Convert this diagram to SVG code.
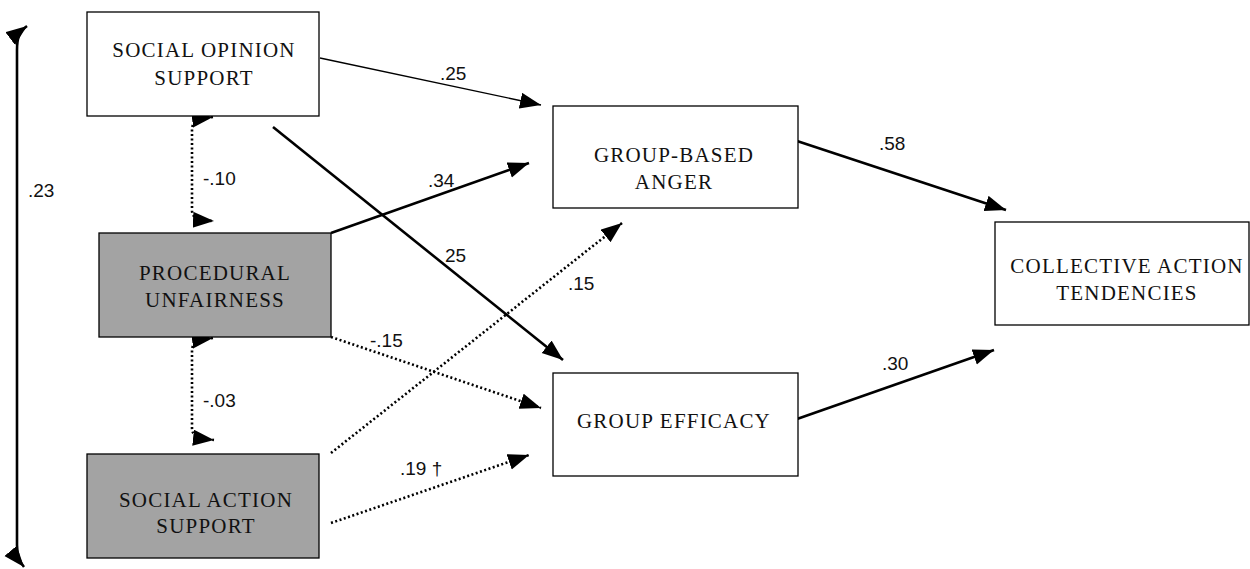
<svg xmlns="http://www.w3.org/2000/svg" width="1250" height="569" viewBox="0 0 1250 569">
  <style>
    .box { fill: #ffffff; stroke: #000000; stroke-width: 1.3; }
    .box.grey { fill: #a3a3a3; }
    .lbl { font-family: "Liberation Serif", "Times New Roman", serif; font-size: 21px; letter-spacing: 1.2px; fill: #111111; text-anchor: middle; }
    .num { font-family: "Liberation Sans", Arial, sans-serif; font-size: 19px; fill: #111111; }
    .thin { fill: none; stroke: #000000; stroke-width: 1.4; marker-end: url(#ah); }
    .bold { fill: none; stroke: #000000; stroke-width: 2.6; marker-end: url(#ah); }
    .dot { fill: none; stroke: #000000; stroke-width: 2.6; stroke-dasharray: 2 2.5; marker-end: url(#ah); }
    .both { marker-start: url(#ahs); }
  </style>
  <defs>
    <marker id="ah" markerUnits="userSpaceOnUse" markerWidth="24" markerHeight="18" refX="21" refY="8" orient="auto">
      <path d="M0,0 L21,8 L0,16 Z" fill="#000000"/>
    </marker>
    <marker id="ahs" markerUnits="userSpaceOnUse" markerWidth="24" markerHeight="18" refX="21" refY="8" orient="auto-start-reverse">
      <path d="M0,0 L21,8 L0,16 Z" fill="#000000"/>
    </marker>
  </defs>

  <!-- paths and correlations -->
  <g id="connectors">
    <path class="bold both" d="M27,26 C19,32 17,38 17,50 L17,545 C17,555 19,561 24,567"/>
    <path class="dot both" d="M213,117 C197,119 192,122 192,130 L192,210 C192,217 196,220 214,221"/>
    <path class="dot both" d="M213,338 C197,340 192,343 192,351 L192,428 C192,435 196,438 214,440"/>
    <path class="thin" d="M320,58 L541,105"/>
    <path class="bold" d="M331,233 L529,163"/>
    <path class="bold" d="M273,127 L563,360"/>
    <path class="dot" d="M331,453 L622,223"/>
    <path class="dot" d="M331,337 L541,408"/>
    <path class="dot" d="M331,523 L529,455"/>
    <path class="bold" d="M797,141 L1006,210"/>
    <path class="bold" d="M797,419 L994,350"/>

    <text class="num" x="28" y="197">.23</text>
    <text class="num" x="203" y="185">-.10</text>
    <text class="num" x="203" y="407">-.03</text>
    <text class="num" x="440" y="80">.25</text>
    <text class="num" x="428" y="187">.34</text>
    <text class="num" x="445" y="262">25</text>
    <text class="num" x="568" y="290">.15</text>
    <text class="num" x="370" y="347">-.15</text>
    <text class="num" x="400" y="475">.19 †</text>
    <text class="num" x="879" y="150">.58</text>
    <text class="num" x="882" y="370">.30</text>
  </g>

  <g id="social-opinion-support">
    <rect class="box" x="87" y="12" width="232" height="104"/>
    <text class="lbl" x="204" y="57">SOCIAL OPINION</text>
    <text class="lbl" x="204" y="85">SUPPORT</text>
  </g>

  <g id="procedural-unfairness">
    <rect class="box grey" x="99" y="233" width="232" height="104"/>
    <text class="lbl" x="215" y="280">PROCEDURAL</text>
    <text class="lbl" x="215" y="307">UNFAIRNESS</text>
  </g>

  <g id="social-action-support">
    <rect class="box grey" x="87" y="454" width="232" height="104"/>
    <text class="lbl" x="206" y="507">SOCIAL ACTION</text>
    <text class="lbl" x="206" y="533">SUPPORT</text>
  </g>

  <g id="group-based-anger">
    <rect class="box" x="553" y="106" width="245" height="102"/>
    <text class="lbl" x="674" y="162">GROUP-BASED</text>
    <text class="lbl" x="674" y="189">ANGER</text>
  </g>

  <g id="group-efficacy">
    <rect class="box" x="553" y="373" width="245" height="103"/>
    <text class="lbl" x="674" y="428">GROUP EFFICACY</text>
  </g>

  <g id="collective-action-tendencies">
    <rect class="box" x="995" y="222" width="254" height="103"/>
    <text class="lbl" x="1127" y="273">COLLECTIVE ACTION</text>
    <text class="lbl" x="1127" y="300">TENDENCIES</text>
  </g>
</svg>
